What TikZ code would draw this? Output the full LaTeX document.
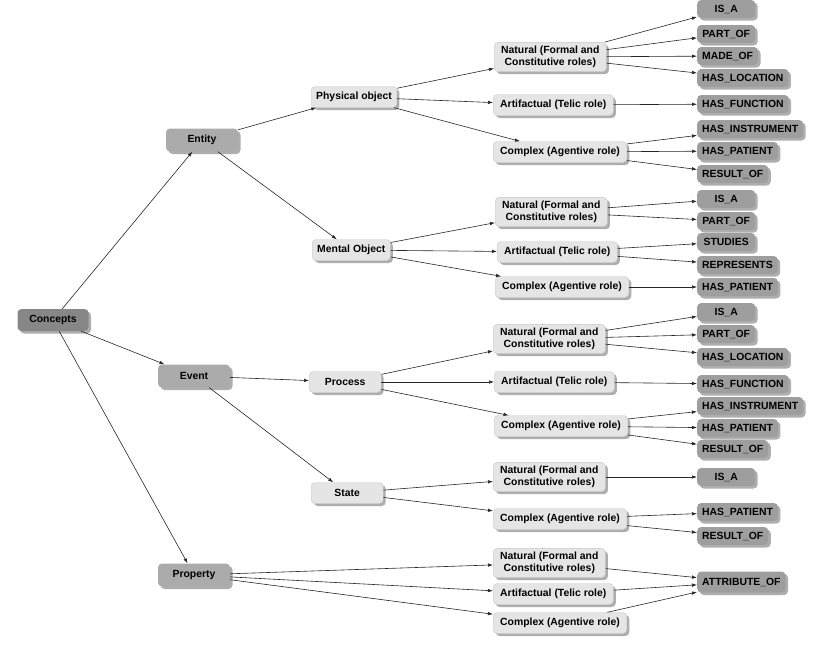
\documentclass[tikz,border=0pt]{standalone}
\usepackage{fontspec}
\setmainfont{Liberation Sans}
\usetikzlibrary{shadows,arrows.meta}

\begin{document}
\begin{tikzpicture}[x=1pt, y=-1pt, >={Latex[length=5pt,width=3.5pt]},
  box/.style={rounded corners=4pt, align=center, inner ysep=2pt,
    font=\bfseries\fontsize{10.4}{12.6}\selectfont,
    drop shadow={shadow xshift=2.5pt, shadow yshift=-2.5pt, fill=black!45, opacity=0.7}},
  rootbox/.style={box, fill=black!47, minimum width=71pt, minimum height=22pt},
  mainbox/.style={box, fill=black!33, minimum width=72pt, minimum height=23pt},
  subbox/.style={box, fill=black!10, draw=black!22, minimum width=72pt, minimum height=21pt, inner xsep=5pt, anchor=west},
  rolebox/.style={box, fill=black!10, draw=black!22, minimum height=21pt, inner xsep=7pt, inner ysep=3.5pt, anchor=west},
  relbox/.style={box, fill=black!38, minimum width=58pt, minimum height=18pt, inner xsep=5pt, inner ysep=1pt, anchor=west},
  link/.style={->, line width=0.6pt, black!85}]
  \useasboundingbox (0,0) rectangle (817,649);

  % concepts and first level
  \node[rootbox] (concepts) at (53,320) {Concepts};
  \node[mainbox] (entity) at (202,140) {Entity};
  \node[mainbox] (event) at (194,376) {Event};
  \node[mainbox] (property) at (194,575) {Property};

  % second level
  \node[subbox] (phys) at (311,97) {Physical object};
  \node[subbox] (mental) at (312,250) {Mental Object};
  \node[subbox] (process) at (309,382) {Process};
  \node[subbox] (state) at (311,493) {State};

  % qualia roles
  \node[rolebox] (physnat) at (494,57) {Natural (Formal and\\Constitutive roles)};
  \node[rolebox] (physart) at (493,105) {Artifactual (Telic role)};
  \node[rolebox] (physcpx) at (493,152) {Complex (Agentive role)};
  \node[rolebox] (mentnat) at (495,212) {Natural (Formal and\\Constitutive roles)};
  \node[rolebox] (mentart) at (497,252) {Artifactual (Telic role)};
  \node[rolebox] (mentcpx) at (495,287) {Complex (Agentive role)};
  \node[rolebox] (procnat) at (493,339) {Natural (Formal and\\Constitutive roles)};
  \node[rolebox] (procart) at (494,382) {Artifactual (Telic role)};
  \node[rolebox] (proccpx) at (494,426) {Complex (Agentive role)};
  \node[rolebox] (statnat) at (493,477) {Natural (Formal and\\Constitutive roles)};
  \node[rolebox] (statcpx) at (493,519) {Complex (Agentive role)};
  \node[rolebox] (propnat) at (493,563) {Natural (Formal and\\Constitutive roles)};
  \node[rolebox] (propart) at (493,594) {Artifactual (Telic role)};
  \node[rolebox] (propcpx) at (493,623) {Complex (Agentive role)};

  % relations
  \node[relbox] (isaA) at (697,9) {IS\_A};
  \node[relbox] (partofA) at (697,34) {PART\_OF};
  \node[relbox] (madeofA) at (697,56) {MADE\_OF};
  \node[relbox] (haslocA) at (697,78) {HAS\_LOCATION};
  \node[relbox] (hasfunA) at (697,104) {HAS\_FUNCTION};
  \node[relbox] (hasinsA) at (697,129) {HAS\_INSTRUMENT};
  \node[relbox] (haspatA) at (697,151) {HAS\_PATIENT};
  \node[relbox] (resofA) at (697,174) {RESULT\_OF};
  \node[relbox] (isaB) at (697,199) {IS\_A};
  \node[relbox] (partofB) at (697,221) {PART\_OF};
  \node[relbox] (studies) at (697,242) {STUDIES};
  \node[relbox] (represents) at (697,265) {REPRESENTS};
  \node[relbox] (haspatB) at (697,287) {HAS\_PATIENT};
  \node[relbox] (isaC) at (697,312) {IS\_A};
  \node[relbox] (partofC) at (697,334) {PART\_OF};
  \node[relbox] (haslocC) at (697,357) {HAS\_LOCATION};
  \node[relbox] (hasfunC) at (697,384) {HAS\_FUNCTION};
  \node[relbox] (hasinsC) at (697,406) {HAS\_INSTRUMENT};
  \node[relbox] (haspatC) at (697,428) {HAS\_PATIENT};
  \node[relbox] (resofC) at (697,449) {RESULT\_OF};
  \node[relbox] (isaD) at (697,477) {IS\_A};
  \node[relbox] (haspatD) at (697,512) {HAS\_PATIENT};
  \node[relbox] (resofD) at (697,536) {RESULT\_OF};
  \node[relbox, minimum height=21pt] (attrof) at (697,582) {ATTRIBUTE\_OF};

  % links
  \foreach \a/\b in {concepts/entity, concepts/event, concepts/property,
      entity/phys, entity/mental, event/process, event/state,
      property/propnat, property/propart, property/propcpx,
      phys/physnat, phys/physart, phys/physcpx,
      mental/mentnat, mental/mentart, mental/mentcpx,
      process/procnat, process/procart, process/proccpx,
      state/statnat, state/statcpx}
    \draw[link] (\a) -- (\b);
  \foreach \a/\b in {physnat/isaA, physnat/partofA, physnat/madeofA, physnat/haslocA,
      physart/hasfunA, physcpx/hasinsA, physcpx/haspatA, physcpx/resofA,
      mentnat/isaB, mentnat/partofB, mentart/studies, mentart/represents, mentcpx/haspatB,
      procnat/isaC, procnat/partofC, procnat/haslocC, procart/hasfunC,
      proccpx/hasinsC, proccpx/haspatC, proccpx/resofC,
      statnat/isaD, statcpx/haspatD, statcpx/resofD,
      propnat/attrof, propart/attrof, propcpx/attrof}
    \draw[link] (\a) -- (\b);
\end{tikzpicture}
\end{document}
